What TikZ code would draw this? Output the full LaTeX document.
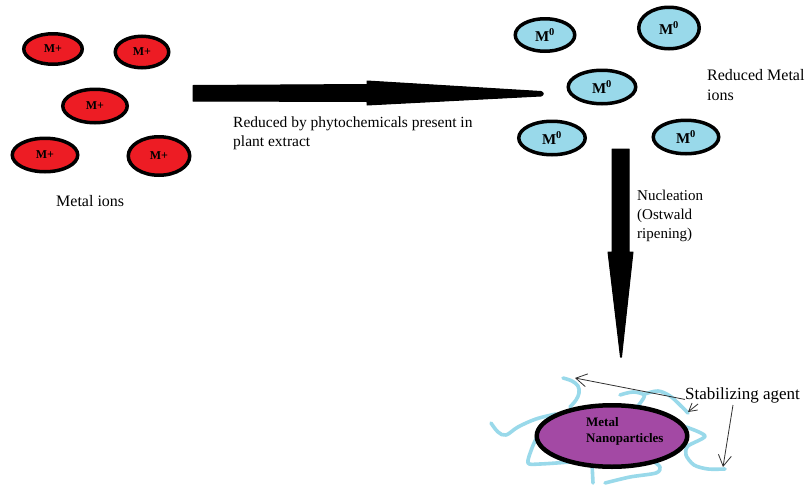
\documentclass[tikz,border=0pt]{standalone}
\usepackage{fontspec}
\setmainfont{Liberation Serif}
\usetikzlibrary{shapes.geometric,arrows.meta}
\definecolor{ionred}{HTML}{ED1C24}
\definecolor{ionblue}{HTML}{99D9EA}
\definecolor{nanopurple}{HTML}{A349A4}
\definecolor{pointer}{HTML}{303030}
\tikzset{
  redion/.style={ellipse, draw=black, line width=3.5pt, fill=ionred, inner sep=0pt,
    font=\fontsize{12}{12}\selectfont\bfseries},
  blueion/.style={ellipse, draw=black, line width=3.5pt, fill=ionblue, inner sep=0pt,
    font=\fontsize{15}{16}\selectfont\bfseries},
  nano/.style={ellipse, draw=black, line width=4.5pt, fill=nanopurple, inner sep=0pt},
  lbl/.style={inner sep=0pt, align=left, anchor=north west},
  bigarrow/.style={fill=black, draw=black, line width=1pt, line join=round},
  ligand/.style={draw=ionblue, line width=3.6pt, line cap=round, line join=round},
  pointerline/.style={draw=pointer, line width=0.8pt, -{Straight Barb[length=11pt,width=13pt]}},
}
\begin{document}
\begin{tikzpicture}[x=1pt,y=-1pt]
\useasboundingbox (0,0) rectangle (807,485);
\fill[white] (0,0) rectangle (807,485);

% metal ions
\node[redion, minimum width=58.5pt, minimum height=30.5pt] (r1) at (53,49) {M+};
\node[redion, minimum width=53.5pt, minimum height=31.5pt] (r2) at (142,52) {M+};
\node[redion, minimum width=64.5pt, minimum height=33.5pt] (r3) at (95,106) {M+};
\node[redion, minimum width=65.5pt, minimum height=33.5pt] (r4) at (45,155) {M+};
\node[redion, minimum width=61.5pt, minimum height=38.5pt] (r5) at (159,156) {M+};
\node[lbl, font=\fontsize{16}{19}\selectfont] (metalions) at (56,195) {Metal ions};

% reduced metal
\node[blueion, minimum width=59.5pt, minimum height=32.5pt] (b1) at (545,35) {M\textsuperscript{0}};
\node[blueion, minimum width=60.5pt, minimum height=41.5pt] (b2) at (669,28) {M\textsuperscript{0}};
\node[blueion, minimum width=67.5pt, minimum height=33.5pt] (b3) at (602,87) {M\textsuperscript{0}};
\node[blueion, minimum width=66.5pt, minimum height=33.5pt] (b4) at (552,138) {M\textsuperscript{0}};
\node[blueion, minimum width=65.5pt, minimum height=33.5pt] (b5) at (686,137) {M\textsuperscript{0}};
\node[lbl, font=\fontsize{16}{20}\selectfont] (redlbl) at (707,69.5) {Reduced Metal\\ions};

% horizontal arrow
\coordinate (h0) at (193,93);
\coordinate (htip) at (542,93.5);
\path[bigarrow] (193,85.5) -- (367,84.5) -- (367,81) -- (541,91.5)
  .. controls (544,92.5) and (544,95) .. (541,96) -- (367,105) -- (367,101.5) -- (193,101) -- cycle;
\node[lbl, font=\fontsize{15.5}{19}\selectfont] (redby) at (233,116.5)
  {Reduced by phytochemicals present in\\plant extract};

% vertical arrow
\path[bigarrow] (612,149) -- (629,149) -- (629,252) -- (633,252) -- (621.5,357)
  -- (620.5,357) -- (608,252) -- (612,252) -- cycle;
\node[lbl, font=\fontsize{15}{19}\selectfont] (nucl) at (637,189.5)
  {Nucleation\\(Ostwald\\ripening)};

% stabilizing agent (ligands)
\draw[ligand] plot[smooth, tension=0.6] coordinates {(563,378) (572,381) (578,386) (579,393) (576,400) (570,407)};
\draw[ligand] plot[smooth, tension=0.6] coordinates {(620,395) (633,392) (644,395) (641,402) (636,408)};
\draw[ligand] plot[smooth, tension=0.6] coordinates {(645,394) (658,391) (670,396) (680,405) (688,413)};
\draw[ligand] plot[smooth, tension=0.6] coordinates {(556,414) (536,419) (518,427) (506,435) (498,432) (491,423)};
\draw[ligand] plot[smooth, tension=0.5] coordinates {(537,437) (532,448) (528,463) (540,464) (570,462)};
\draw[ligand] (592,463) -- (593,483);
\draw[ligand] plot[smooth, tension=0.5] coordinates {(605,483) (630,477) (656,473) (660,467) (653,461)};
\draw[ligand] plot[smooth, tension=0.5] coordinates {(686,427) (705,436) (688,446) (686,455) (694,465) (708,469) (725,469)};

\node[nano, minimum width=150.5pt, minimum height=61.5pt] (np) at (612,436) {};
\node[lbl, font=\fontsize{13}{16.5}\selectfont\bfseries] (nplbl) at (586,417) {Metal\\Nanoparticles};

\node[lbl, font=\fontsize{17}{20}\selectfont] (stab) at (685,387.5) {Stabilizing agent};
\coordinate (t1) at (575,378);
\coordinate (t2) at (688,412);
\coordinate (t3) at (723,467);
\draw[pointerline] (stab.west) ++(0,4) -- (t1);
\draw[pointerline, -{Straight Barb[length=8pt,width=9pt]}] (698,404) -- (t2);
\draw[pointerline] (733,405) -- (t3);
\end{tikzpicture}
\end{document}
